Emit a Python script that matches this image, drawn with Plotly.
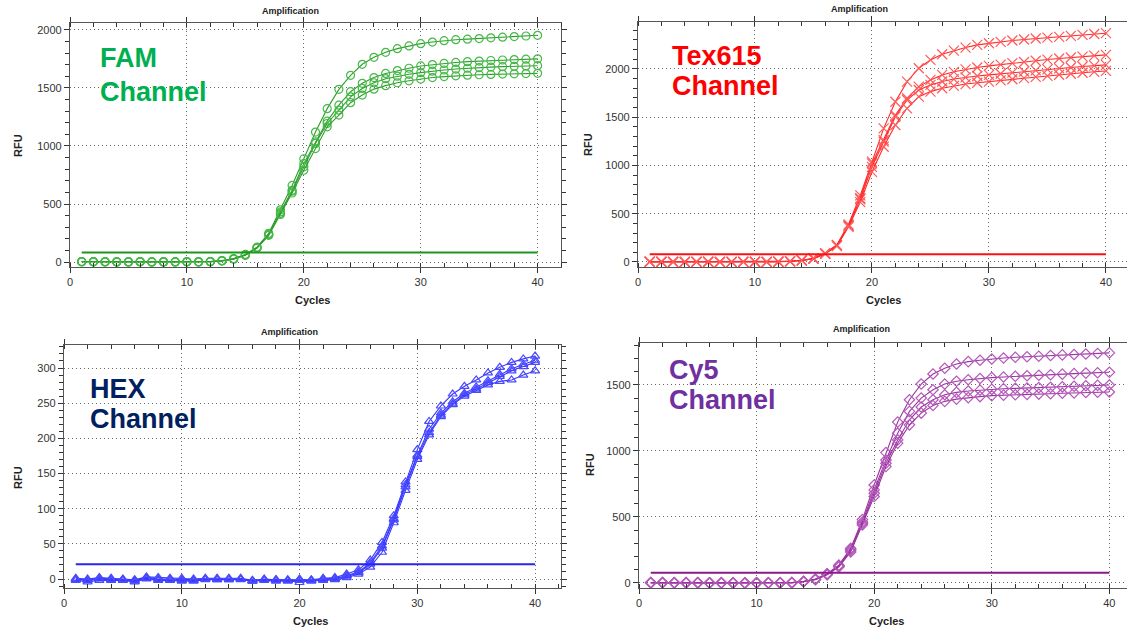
import plotly.graph_objects as go

CYCLES = list(range(1, 41))

FAM_1 = [4,3,3,2,2,3,1,2,2,3,2,4,12,30,65,128,248,450,660,890,1120,1322,1488,1609,1704,1764,1807,1839,1862,1882,1896,1908,1916,1921,1926,1932,1938,1943,1948,1954]
FAM_2 = [3,3,2,2,1,3,1,2,1,2,2,3,11,28,62,125,240,432,618,848,1036,1214,1352,1468,1540,1590,1625,1650,1670,1690,1702,1712,1720,1727,1732,1737,1741,1745,1748,1751]
FAM_3 = [3,2,2,1,1,2,1,1,1,2,1,3,10,26,60,122,236,420,610,820,1022,1194,1309,1424,1496,1545,1580,1602,1618,1632,1645,1655,1663,1670,1676,1680,1684,1687,1690,1692]
FAM_4 = [2,2,1,1,0,2,0,1,1,2,1,2,9,25,58,120,230,410,595,791,978,1165,1266,1373,1439,1490,1520,1545,1562,1577,1590,1598,1605,1610,1614,1617,1620,1622,1624,1626]
FAM_THRESHOLD = 82

TEX_1 = [3,2,2,1,2,2,1,1,2,2,1,3,8,18,38,90,178,390,690,1040,1384,1660,1868,2007,2093,2152,2190,2221,2249,2266,2280,2294,2305,2315,2324,2332,2342,2353,2362,2370]
TEX_2 = [2,2,1,1,1,2,1,1,1,2,1,2,7,17,36,88,172,380,660,1021,1263,1522,1696,1817,1886,1938,1970,1995,2015,2031,2045,2060,2072,2085,2097,2108,2118,2128,2137,2145]
TEX_3 = [2,1,1,0,1,1,0,1,1,1,0,2,6,16,35,86,170,375,650,986,1246,1505,1678,1782,1834,1870,1895,1913,1927,1938,1950,1962,1973,1985,1995,2005,2015,2025,2034,2042]
TEX_4 = [1,1,0,0,0,1,0,0,1,1,0,1,5,15,33,84,165,365,620,934,1194,1419,1592,1713,1765,1800,1825,1843,1857,1869,1882,1893,1905,1917,1928,1940,1950,1960,1970,1979]
TEX_THRESHOLD = 80

HEX_1 = [1,0,2,1,0,-1,3,2,1,1,0,1,1,1,1,-2,0,-1,-1,0,-1,1,2,7,13,27,52,90,138,184,224,246,263,274,283,293,301,308,313,317]
HEX_2 = [-1,-2,0,-1,-1,-3,1,-1,-1,-2,-2,0,0,0,0,-3,-1,-2,-2,-1,-2,-1,0,5,10,23,47,86,134,176,213,236,252,264,273,282,291,299,305,311]
HEX_3 = [0,-1,1,0,-1,-2,2,0,0,-1,-1,0,-1,-1,0,-2,-1,-1,-2,-5,-2,0,1,4,9,21,44,84,131,174,208,233,249,262,270,279,288,296,302,308]
HEX_4 = [-2,-4,-2,-2,-2,-4,0,-2,-2,-3,-3,-1,-1,-1,-1,-3,-2,-3,-3,-2,-3,-2,-1,2,7,17,38,80,126,170,205,231,248,260,268,276,281,283,290,296]
HEX_THRESHOLD = 21

CY5_1 = [3,4,2,3,3,1,2,1,1,2,2,2,3,12,30,70,135,262,480,742,988,1219,1388,1507,1583,1627,1659,1677,1687,1697,1704,1710,1714,1718,1723,1728,1731,1735,1739,1743]
CY5_2 = [2,3,2,2,2,1,1,1,0,1,1,2,3,11,28,67,130,255,462,705,932,1135,1300,1401,1464,1507,1528,1540,1549,1556,1561,1566,1570,1574,1578,1582,1586,1590,1593,1596]
CY5_3 = [2,2,1,2,2,0,1,0,0,1,1,1,2,10,27,65,126,245,450,680,907,1084,1236,1333,1388,1426,1444,1454,1461,1467,1471,1474,1477,1480,1482,1486,1490,1494,1497,1500]
CY5_4 = [1,2,1,1,1,0,0,0,0,0,0,1,2,9,25,62,122,235,440,655,882,1059,1198,1287,1345,1376,1393,1404,1412,1419,1423,1426,1429,1431,1434,1437,1440,1443,1445,1447]
CY5_THRESHOLD = 78

W, H = 1127, 634

def px_x(v):
    return v / W

def px_y(v):
    return 1 - v / H

panels = [
    dict(name="FAM", series=[FAM_1, FAM_2, FAM_3, FAM_4], thr=FAM_THRESHOLD,
         line="#2E9E2E", marker="#45B845", thrc="#1E961E", symbol="circle-open", msize=8,
         xdom=(70, 561), ydom=(23, 267), xr=(0, 42), yr=(-43, 2060), ydt=500, yminor=100,
         label=["FAM", "Channel"], lc="#00B050", lx=98, ly=(58, 92),
         title=(290, 11), rfu=(18, 146), cyc=(312, 300)),
    dict(name="Tex615", series=[TEX_1, TEX_2, TEX_3, TEX_4], thr=TEX_THRESHOLD,
         line="#FF2A2A", marker="#FF5A5A", thrc="#FF1010", symbol="x-thin-open", msize=10,
         xdom=(638, 1127), ydom=(22, 267), xr=(0, 41.8), yr=(-52, 2486), ydt=500, yminor=100,
         label=["Tex615", "Channel"], lc="#FF0000", lx=670, ly=(56, 86),
         title=(860, 9), rfu=(588, 145), cyc=(883, 300)),
    dict(name="HEX", series=[HEX_1, HEX_2, HEX_3, HEX_4], thr=HEX_THRESHOLD,
         line="#3838FF", marker="#4A4AFF", thrc="#2626F0", symbol="triangle-up-open", msize=8,
         xdom=(64, 561), ydom=(345, 588), xr=(0, 42.2), yr=(-12.8, 332.7), ydt=50, yminor=10,
         label=["HEX", "Channel"], lc="#002060", lx=88, ly=(389, 419),
         title=(289, 332), rfu=(18, 478), cyc=(310, 621)),
    dict(name="Cy5", series=[CY5_1, CY5_2, CY5_3, CY5_4], thr=CY5_THRESHOLD,
         line="#9A35A0", marker="#B458BA", thrc="#8A1A8A", symbol="diamond-open", msize=8,
         xdom=(639, 1127), ydom=(343, 588), xr=(0, 41.5), yr=(-38, 1818), ydt=500, yminor=100,
         label=["Cy5", "Channel"], lc="#7030A0", lx=667, ly=(370, 400),
         title=(861, 329), rfu=(590, 465), cyc=(886, 621)),
]

fig = go.Figure()
annotations = []
layout_axes = {}

for i, p in enumerate(panels):
    k = "" if i == 0 else str(i + 1)
    xa, ya = "x" + k, "y" + k
    for s in p["series"]:
        fig.add_trace(go.Scatter(
            x=CYCLES, y=s, xaxis=xa, yaxis=ya, mode="lines+markers",
            line=dict(color=p["line"], width=1.1),
            marker=dict(symbol=p["symbol"], size=p["msize"], color=p["marker"],
                        line=dict(width=1.2, color=p["marker"])),
            showlegend=False, hoverinfo="skip"))
    fig.add_trace(go.Scatter(
        x=[min(CYCLES), max(CYCLES)], y=[p["thr"], p["thr"]], xaxis=xa, yaxis=ya,
        mode="lines", line=dict(color=p["thrc"], width=2), showlegend=False, hoverinfo="skip"))

    common = dict(showline=True, linecolor="#555555", linewidth=1.3, mirror="ticks",
                  showgrid=True, gridcolor="#666666", griddash="1px,3px", gridwidth=1,
                  zeroline=False, ticks="outside", ticklen=5, tickcolor="#333333",
                  automargin=False,
                  tickfont=dict(family="Liberation Sans", size=11, color="#333333"))
    layout_axes["xaxis" + k] = dict(
        domain=[px_x(p["xdom"][0]), px_x(p["xdom"][1])], range=list(p["xr"]),
        anchor=ya, dtick=10, tick0=0,
        minor=dict(dtick=2, ticks="inside", ticklen=4, tickcolor="#333333", showgrid=False),
        **common)
    layout_axes["yaxis" + k] = dict(
        domain=[px_y(p["ydom"][1]), px_y(p["ydom"][0])], range=list(p["yr"]),
        anchor=xa, dtick=p["ydt"], tick0=0,
        minor=dict(dtick=p["yminor"], ticks="outside", ticklen=4, tickcolor="#333333", showgrid=False),
        **common)

    for txt, yy in zip(p["label"], p["ly"]):
        annotations.append(dict(text=txt, x=px_x(p["lx"]), y=px_y(yy), xref="paper", yref="paper",
                                xanchor="left", yanchor="middle", showarrow=False,
                                font=dict(family="Liberation Sans", size=27, color=p["lc"], weight="bold")))
    annotations.append(dict(text="<b>Amplification</b>", x=px_x(p["title"][0]), y=px_y(p["title"][1]),
                            xref="paper", yref="paper", xanchor="center", yanchor="middle",
                            showarrow=False, font=dict(family="Liberation Sans", size=9, color="#222222")))
    annotations.append(dict(text="<b>RFU</b>", x=px_x(p["rfu"][0]), y=px_y(p["rfu"][1]),
                            xref="paper", yref="paper", xanchor="center", yanchor="middle", textangle=-90,
                            showarrow=False, font=dict(family="Liberation Sans", size=11, color="#222222")))
    annotations.append(dict(text="<b>Cycles</b>", x=px_x(p["cyc"][0]), y=px_y(p["cyc"][1]),
                            xref="paper", yref="paper", xanchor="center", yanchor="middle",
                            showarrow=False, font=dict(family="Liberation Sans", size=11, color="#222222")))

fig.update_layout(width=W, height=H, margin=dict(l=0, r=0, t=0, b=0),
                  paper_bgcolor="white", plot_bgcolor="white",
                  annotations=annotations, **layout_axes)

fig.write_html("out.html", config={"displayModeBar": False},
               post_script="document.body.style.margin='0';document.body.style.overflow='hidden';"
                           "document.documentElement.style.overflow='hidden';")
